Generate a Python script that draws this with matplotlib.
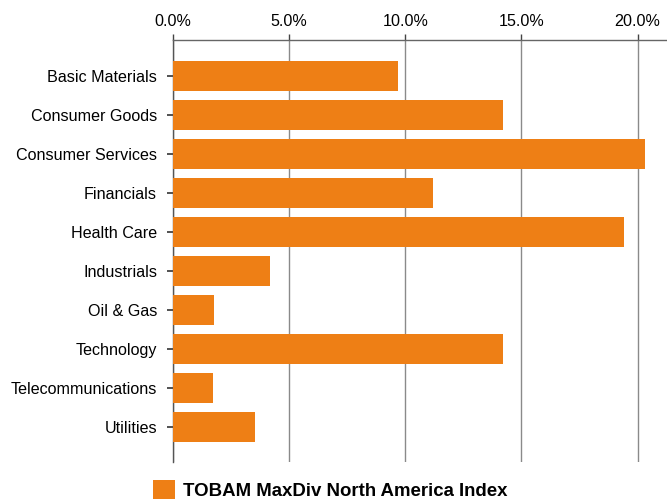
import matplotlib
matplotlib.use("Agg")
import matplotlib.pyplot as plt
from matplotlib.ticker import PercentFormatter

categories = ["Basic Materials", "Consumer Goods", "Consumer Services", "Financials",
              "Health Care", "Industrials", "Oil & Gas", "Technology",
              "Telecommunications", "Utilities"]
values = [9.68, 14.19, 20.34, 11.18, 19.44, 4.17, 1.76, 14.19, 1.72, 3.53]
series_name = "TOBAM MaxDiv North America Index"
xticks = [0, 5, 10, 15, 20]

plt.rcParams['font.family'] = ['Liberation Sans', 'DejaVu Sans']

fig = plt.figure(figsize=(6.67, 4.99), dpi=100)
ax = fig.add_axes([173/667, 1-462/499, 1-173/667, (462-40)/499])

ypos = list(range(len(categories)))
bars = ax.barh(ypos, values, height=0.77, color="#EE7F15", label=series_name, zorder=3)

ax.set_xlim(0, 21.27)
ax.set_ylim(9.9, -0.92)
ax.set_yticks(ypos)
ax.set_yticklabels(categories, fontsize=11.6)
ax.set_xticks(xticks)
ax.xaxis.set_major_formatter(PercentFormatter(decimals=1))
ax.xaxis.tick_top()
ax.tick_params(axis='x', direction='out', length=4.5, width=1, color='#444444',
               labelsize=11.6, pad=3.5, labelcolor='black')
ax.tick_params(axis='y', direction='out', length=4.5, width=1.2, color='#333333',
               pad=7, labelcolor='black')

for s in ['right', 'bottom']:
    ax.spines[s].set_visible(False)
ax.spines['top'].set_color('#666666')
ax.spines['top'].set_linewidth(1)
ax.spines['left'].set_color('#555555')
ax.spines['left'].set_linewidth(1)

ax.grid(axis='x', color='#8a8a8a', linewidth=1, zorder=1)
ax.set_axisbelow(True)

fig.legend(handles=[bars], labels=[series_name], loc='upper left',
           bbox_to_anchor=(153/667, 1-480/499), frameon=False,
           borderpad=0, borderaxespad=0, handlelength=1.17, handleheight=1.17,
           handletextpad=0.45, prop={'weight': 'bold', 'size': 13.4})

fig.savefig("out.png", dpi=100)
